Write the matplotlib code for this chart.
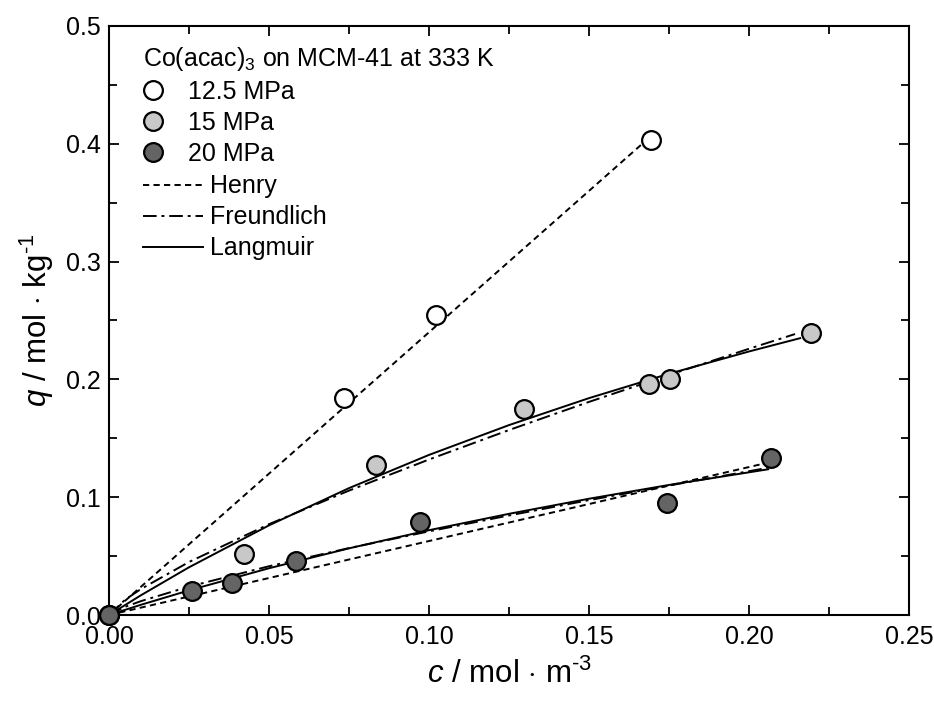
import numpy as np
import matplotlib
matplotlib.use("Agg")
import matplotlib.pyplot as plt
from matplotlib.lines import Line2D

plt.rcParams['font.family'] = ['Liberation Sans', 'DejaVu Sans']
plt.rcParams['mathtext.fontset'] = 'custom'
plt.rcParams['mathtext.rm'] = 'Liberation Sans'
plt.rcParams['mathtext.it'] = 'Liberation Sans:italic'

# measured points (c in mol/m3, q in mol/kg)
c_125 = [0.0, 0.0735, 0.1022, 0.1694]
q_125 = [0.0, 0.184, 0.2547, 0.403]
c_15 = [0.0, 0.0421, 0.0834, 0.1297, 0.1688, 0.1753, 0.2193]
q_15 = [0.0, 0.0522, 0.127, 0.175, 0.1958, 0.200, 0.2396]
c_20 = [0.0, 0.0259, 0.0385, 0.0584, 0.0972, 0.1743, 0.2069]
q_20 = [0.0, 0.0205, 0.0270, 0.0460, 0.0792, 0.0948, 0.1335]

# model curves
henry_c_125 = [0.0, 0.170]
henry_q_125 = [0.0, 0.408]
henry_c_20 = [0.0, 0.207]
henry_q_20 = [0.0, 0.130]

fr_c_15 = [0.0, 0.005, 0.01, 0.025, 0.05, 0.075, 0.1, 0.125, 0.15, 0.175, 0.2, 0.2144]
fr_q_15 = [0.0, 0.0129, 0.0221, 0.0450, 0.0771, 0.1056, 0.132, 0.157, 0.1809, 0.2037, 0.226, 0.2385]
la_c_15 = [0.0, 0.01, 0.025, 0.05, 0.075, 0.1, 0.125, 0.15, 0.175, 0.2, 0.216]
la_q_15 = [0.0, 0.0168, 0.0405, 0.0761, 0.1077, 0.1359, 0.1612, 0.1841, 0.2048, 0.2237, 0.235]

fr_c_20 = [0.0, 0.005, 0.01, 0.025, 0.05, 0.075, 0.1, 0.125, 0.15, 0.175, 0.206]
fr_q_20 = [0.0, 0.0069, 0.0118, 0.0241, 0.0414, 0.0568, 0.071, 0.0845, 0.0975, 0.1099, 0.125]
la_c_20 = [0.0, 0.01, 0.025, 0.05, 0.075, 0.1, 0.125, 0.15, 0.175, 0.206]
la_q_20 = [0.0, 0.0087, 0.0209, 0.0397, 0.0566, 0.072, 0.0859, 0.0987, 0.1104, 0.1237]

fig = plt.figure(figsize=(9.34, 7.04), dpi=100)
ax = fig.add_axes([0.1167, 0.1264, 0.8565, 0.8367])

lw = 1.4
dash = (0, (3.2, 2.2))
dashdot = (0, (7, 2.5, 1.5, 2.5))

ax.plot(henry_c_125, henry_q_125, color='black', lw=lw, linestyle=dash, zorder=2)
ax.plot(henry_c_20, henry_q_20, color='black', lw=lw, linestyle=dash, zorder=2)
ax.plot(fr_c_15, fr_q_15, color='black', lw=lw, linestyle=dashdot, zorder=2)
ax.plot(fr_c_20, fr_q_20, color='black', lw=lw, linestyle=dashdot, zorder=2)
ax.plot(la_c_15, la_q_15, color='black', lw=lw, linestyle='-', zorder=2)
ax.plot(la_c_20, la_q_20, color='black', lw=lw, linestyle='-', zorder=2)

mk = dict(linestyle='none', marker='o', markersize=13.5, markeredgecolor='black',
          markeredgewidth=1.6, zorder=3, clip_on=False)
ax.plot(c_125, q_125, markerfacecolor='white', **mk)
ax.plot(c_15, q_15, markerfacecolor='#c8c8c8', **mk)
ax.plot(c_20, q_20, markerfacecolor='#646464', **mk)

ax.set_xlim(0, 0.25)
ax.set_ylim(0, 0.5)
ax.set_xticks(np.arange(0, 0.26, 0.05))
ax.set_yticks(np.arange(0, 0.51, 0.1))
ax.set_xticks(np.arange(0.025, 0.25, 0.05), minor=True)
ax.set_yticks(np.arange(0.05, 0.5, 0.1), minor=True)
ax.set_xticklabels(['0.00', '0.05', '0.10', '0.15', '0.20', '0.25'])
ax.set_yticklabels(['0.0', '0.1', '0.2', '0.3', '0.4', '0.5'])
ax.tick_params(which='both', direction='in', top=True, right=True, width=1.3)
ax.tick_params(which='major', length=7, labelsize=18)
ax.tick_params(axis='x', which='major', pad=7)
ax.tick_params(axis='y', which='major', pad=6)
ax.tick_params(which='minor', length=6)
for s in ax.spines.values():
    s.set_linewidth(1.5)

ax.set_xlabel(r'$c$ / mol $\cdot$ m$^{\text{-3}}$', fontsize=22.5, labelpad=7)
ax.set_ylabel(r'$q$ / mol $\cdot$ kg$^{\text{-1}}$', fontsize=22.5, labelpad=7)

# legend: title + data markers
mh = [Line2D([], [], linestyle='none', marker='o', markersize=13.5, markeredgecolor='black',
             markeredgewidth=1.6, markerfacecolor=fc) for fc in ['white', '#c8c8c8', '#646464']]
leg1 = ax.legend(mh, ['12.5 MPa', '15 MPa', '20 MPa'], loc='upper left',
                 bbox_to_anchor=(0.03, 0.985), frameon=False, fontsize=18,
                 title=r'Co(acac)$_3$ on MCM-41 at 333 K', title_fontsize=18,
                 alignment='left', handlelength=0.8, handletextpad=1.0,
                 labelspacing=0.28, borderaxespad=0)
ax.add_artist(leg1)

lh = [Line2D([], [], color='black', lw=lw, linestyle=ls) for ls in [dash, dashdot, '-']]
ax.legend(lh, ['Henry', 'Freundlich', 'Langmuir'], loc='upper left',
          bbox_to_anchor=(0.03, 0.765), frameon=False, fontsize=18,
          handlelength=2.4, handletextpad=0.28, labelspacing=0.28, borderaxespad=0)

fig.savefig('out.png', dpi=100)
